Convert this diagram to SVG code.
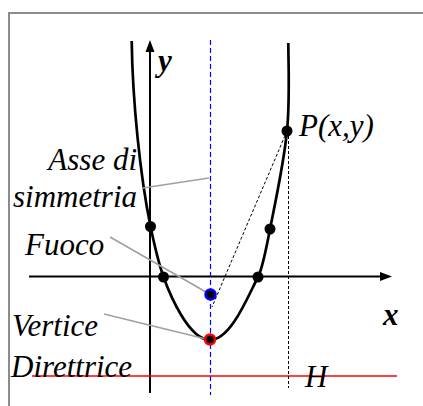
<svg xmlns="http://www.w3.org/2000/svg" width="423" height="406" viewBox="0 0 423 406">
<style>
.lbl{font-family:"Liberation Serif","Times New Roman",serif;font-style:italic;font-size:31px;fill:#000}
.bold{font-weight:bold}
.axis{stroke:#000;stroke-width:2;fill:none}
.lead{stroke:#a0a0a0;stroke-width:1.6;fill:none}
.dash{stroke:#000;stroke-width:1;stroke-dasharray:3,2;fill:none}
.pt{fill:#000}
</style>
<rect x="0" y="0" width="423" height="406" fill="#fff"/>
<path d="M9,406 V13 H424" fill="none" stroke="#8c8c8c" stroke-width="2"/>
<g id="connectors">
  <line class="axis" x1="150" y1="393" x2="150" y2="51"/>
  <polygon points="150,40 145.5,52 154.5,52" fill="#000"/>
  <line class="axis" x1="29" y1="276.5" x2="381" y2="276.5"/>
  <polygon points="392,276.5 380,272 380,281" fill="#000"/>
  <line x1="210.5" y1="40" x2="210.5" y2="395" stroke="#0000ff" stroke-width="1.2" stroke-dasharray="5,3"/>
  <line x1="32" y1="376" x2="397" y2="376" stroke="#ff0000" stroke-width="1.4"/>
  <line class="dash" x1="287" y1="131" x2="212" y2="307"/>
  <line class="dash" x1="288.5" y1="131" x2="288.5" y2="388"/>
  <path d="M131.7,41 C132.5,100 140,175 150.5,226.5 C154,243 157.5,260 163.5,277 C170,295 189,340 210,340 C231,340 248,296 258,277 C262,269.5 267,245 270,229 C275,204 284,162 287,131 C290,100 288.5,70 288.3,43" fill="none" stroke="#000" stroke-width="2.7"/>
  <line class="lead" x1="143" y1="188" x2="209" y2="178"/>
  <line class="lead" x1="110" y1="237" x2="206" y2="292"/>
  <line class="lead" x1="104" y1="314" x2="206" y2="339"/>
</g>
<g id="point-c1"><circle class="pt" cx="150.5" cy="226.5" r="5.5"/></g>
<g id="point-r1"><circle class="pt" cx="163.5" cy="277" r="5.5"/></g>
<g id="point-r2"><circle class="pt" cx="258" cy="277" r="5.5"/></g>
<g id="point-c2"><circle class="pt" cx="270" cy="229" r="5.5"/></g>
<g id="point-P"><circle class="pt" cx="287" cy="131" r="5.5"/><text class="lbl" x="299" y="136">P(x,y)</text></g>
<g id="fuoco"><circle cx="210.5" cy="294.5" r="5" fill="#000" stroke="#0000ff" stroke-width="2.5"/><text class="lbl" x="25" y="255">Fuoco</text></g>
<g id="vertice"><circle cx="210" cy="339.5" r="5" fill="#000" stroke="#ff0000" stroke-width="2.5"/><text class="lbl" x="12" y="336">Vertice</text></g>
<g id="asse"><text class="lbl" x="137" y="170" text-anchor="end">Asse di</text><text class="lbl" x="137" y="207" text-anchor="end">simmetria</text></g>
<g id="direttrice"><text class="lbl" x="11" y="377">Direttrice</text></g>
<g id="H"><text class="lbl" x="305" y="387">H</text></g>
<g id="label-y"><text class="lbl bold" x="158" y="71">y</text></g>
<g id="label-x"><text class="lbl bold" x="383" y="325">x</text></g>
</svg>
